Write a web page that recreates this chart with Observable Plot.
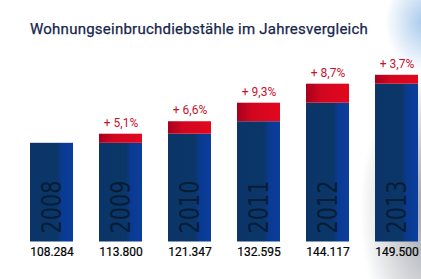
<!DOCTYPE html>
<html>
<head>
<meta charset="utf-8">
<script src="https://cdn.jsdelivr.net/npm/d3@7"></script>
<script src="https://cdn.jsdelivr.net/npm/@observablehq/plot@0.6"></script>
<style>
  html, body { margin: 0; padding: 0; }
  body {
    width: 421px; height: 279px; overflow: hidden; position: relative;
    background:
      radial-gradient(ellipse 40px 50px at 425px 22px, rgba(150,190,232,0.85), rgba(150,190,232,0) 100%),
      radial-gradient(ellipse 70px 140px at 430px 210px, rgba(120,126,136,0.75), rgba(120,126,136,0) 100%),
      #ffffff;
    font-family: Roboto, "Open Sans", sans-serif;
  }
  #title {
    position: absolute; left: 30px; top: 20px; line-height: 18px;
    font-size: 15px; font-weight: normal; color: #15264a; letter-spacing: 0.24px; white-space: nowrap;
    -webkit-text-stroke: 0.25px #15264a;
  }
  #chart { position: absolute; left: 0; top: 50px; }
</style>
</head>
<body>
<div id="title">Wohnungseinbruchdiebstähle im Jahresvergleich</div>
<div id="chart"></div>
<script>
const years = ["2008", "2009", "2010", "2011", "2012", "2013"];
const values = [108284, 113800, 121347, 132595, 144117, 149500];
const valueLabels = ["108.284", "113.800", "121.347", "132.595", "144.117", "149.500"];
const changeLabels = ["", "+ 5,1%", "+ 6,6%", "+ 9,3%", "+ 8,7%", "+ 3,7%"];
const yDomain = [48470, 164530];

const rows = years.map((year, i) => ({
  year,
  value: values[i],
  base: i === 0 ? values[i] : values[i - 1],
  label: valueLabels[i],
  change: changeLabels[i]
}));
const increases = rows.filter((d, i) => i > 0);

const plot = Plot.plot({
  width: 421,
  height: 229,
  marginLeft: 30,
  marginRight: 3,
  marginTop: 0,
  marginBottom: 37.5,
  style: { background: "transparent", fontFamily: "Roboto, 'Open Sans', sans-serif", overflow: "visible" },
  x: { domain: years, paddingInner: 0.377, paddingOuter: 0, axis: null },
  y: { domain: yDomain, axis: null },
  marks: [
    Plot.barY(rows, { x: "year", y1: yDomain[0], y2: "base", fill: "url(#blueGrad)" }),
    Plot.barY(increases, { x: "year", y1: "base", y2: "value", fill: "url(#redGrad)" }),
    Plot.text(rows, {
      x: "year", frameAnchor: "bottom", text: "year", rotate: -90,
      textAnchor: "start", lineAnchor: "middle", dy: -8.5,
      fontSize: 27, fontFamily: "'DejaVu Sans Condensed', 'DejaVu Sans', sans-serif",
      fill: "#06182f", fillOpacity: 0.85
    }),
    Plot.text(increases, {
      x: "year", y: "value", text: "change", dy: -11.5, lineAnchor: "middle",
      fontSize: 12, fill: "#c8102e"
    }),
    Plot.text(rows, {
      x: "year", frameAnchor: "bottom", text: "label", dy: 10, lineAnchor: "middle",
      fontSize: 12, fill: "#000000", stroke: "#000000", strokeWidth: 0.2
    })
  ]
});

const defs = d3.create("svg:defs");
const blue = defs.append("linearGradient").attr("id", "blueGrad").attr("x1", 0).attr("x2", 1).attr("y1", 0).attr("y2", 0);
blue.append("stop").attr("offset", "0%").attr("stop-color", "#0b3568");
blue.append("stop").attr("offset", "62%").attr("stop-color", "#0b3668");
blue.append("stop").attr("offset", "75%").attr("stop-color", "#0a3b92");
blue.append("stop").attr("offset", "100%").attr("stop-color", "#0b3d9c");
const red = defs.append("linearGradient").attr("id", "redGrad").attr("x1", 0).attr("x2", 1).attr("y1", 0).attr("y2", 0);
red.append("stop").attr("offset", "0%").attr("stop-color", "#a8001e");
red.append("stop").attr("offset", "35%").attr("stop-color", "#d2061f");
red.append("stop").attr("offset", "100%").attr("stop-color", "#e2081e");
plot.insertBefore(defs.node(), plot.firstChild);

document.getElementById("chart").appendChild(plot);

// condense the rotated year labels along their reading direction
const yearTexts = Array.from(plot.querySelectorAll("text")).filter(t => years.includes(t.textContent.trim()));
yearTexts.forEach(t => {
  const len = t.getComputedTextLength();
  if (len > 0) {
    const k = 53 / len;
    t.setAttribute("transform", (t.getAttribute("transform") || "") + ` scale(${k},1)`);
  }
});
</script>
</body>
</html>
